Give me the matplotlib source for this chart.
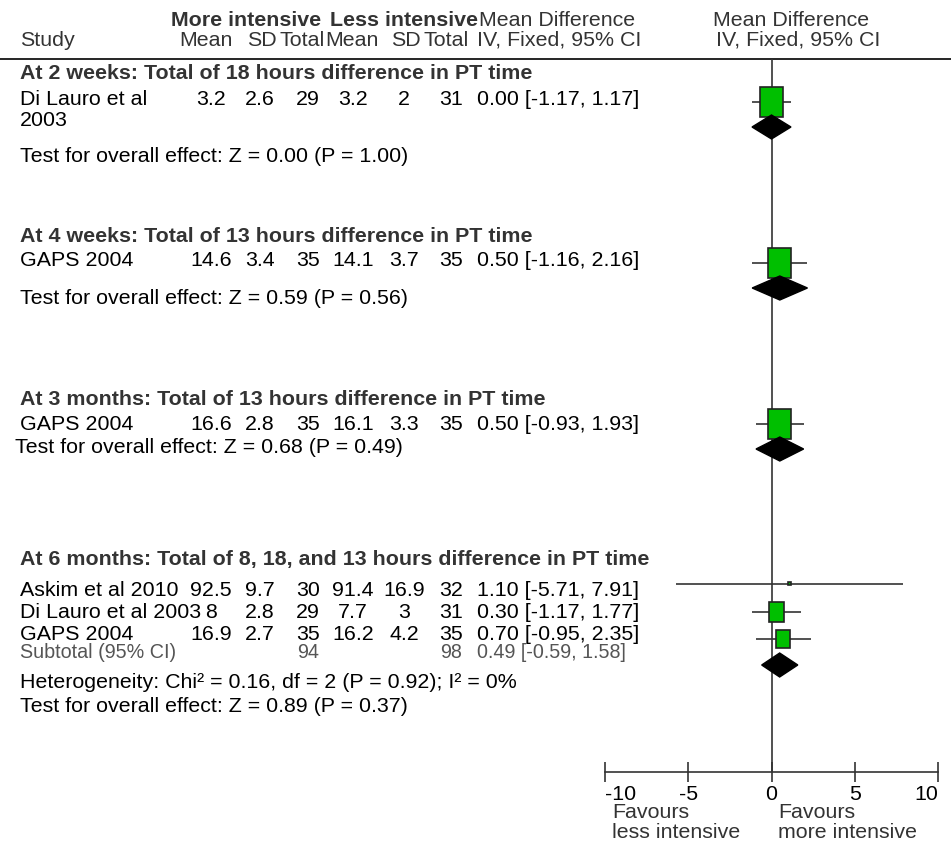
import matplotlib
matplotlib.use("Agg")
import matplotlib.pyplot as plt
from matplotlib.patches import Rectangle, Polygon
import numpy as np

plt.rcParams['font.family'] = ['Liberation Sans', 'DejaVu Sans']

# Data per study
study = ["Di Lauro et al\n2003", "GAPS 2004", "GAPS 2004",
         "Askim et al 2010", "Di Lauro et al 2003", "GAPS 2004"]
study_group = [0, 1, 2, 3, 3, 3]
mean_more = [3.2, 14.6, 16.6, 92.5, 8, 16.9]
sd_more = [2.6, 3.4, 2.8, 9.7, 2.8, 2.7]
n_more = [29, 35, 35, 30, 29, 35]
mean_less = [3.2, 14.1, 16.1, 91.4, 7.7, 16.2]
sd_less = [2, 3.7, 3.3, 16.9, 3, 4.2]
n_less = [31, 35, 35, 32, 31, 35]
md = [0.00, 0.50, 0.50, 1.10, 0.30, 0.70]
ci_lo = [-1.17, -1.16, -0.93, -5.71, -1.17, -0.95]
ci_hi = [1.17, 2.16, 1.93, 7.91, 1.77, 2.35]

# Data per subgroup
group_titles = ["At 2 weeks: Total of 18 hours difference in PT time",
                "At 4 weeks: Total of 13 hours difference in PT time",
                "At 3 months: Total of 13 hours difference in PT time",
                "At 6 months: Total of 8, 18, and 13 hours difference in PT time"]
pooled_md = [0.00, 0.50, 0.50, 0.49]
pooled_lo = [-1.17, -1.16, -0.93, -0.59]
pooled_hi = [1.17, 2.16, 1.93, 1.58]
overall_tests = ["Test for overall effect: Z = 0.00 (P = 1.00)",
                 "Test for overall effect: Z = 0.59 (P = 0.56)",
                 "Test for overall effect: Z = 0.68 (P = 0.49)",
                 "Test for overall effect: Z = 0.89 (P = 0.37)"]
subtotal_n_more = 94
subtotal_n_less = 98
heterogeneity = "Heterogeneity: Chi\u00b2 = 0.16, df = 2 (P = 0.92); I\u00b2 = 0%"

xticks = [-10, -5, 0, 5, 10]

# layout (pixel rows)
W, H = 951, 849
study_y_text = [99, 261, 424, 590, 612, 634]
study_y_mark = [102, 263, 424, 584, 612, 639]
title_y = [73, 236, 399, 560]
diamond_y = [127, 288, 449, 665]
test_y = [156, 299, 447, 706]
test_x = [20, 20, 15, 20]
col_x = [211, 260, 308, 353, 404, 451]
ci_x = 477
fs = 15.4
grey = '#333333'

fig = plt.figure(figsize=(W / 100, H / 100), dpi=100)
ax = fig.add_axes([0, 0, 1, 1])
ax.set_xlim(0, W)
ax.set_ylim(H, 0)
ax.axis('off')


def put(x, y, s, **kw):
    kw.setdefault('fontsize', fs)
    kw.setdefault('va', 'center')
    kw.setdefault('color', 'black')
    ax.text(x, y, s, **kw)


# headers
put(246, 20, "More intensive", ha='center', weight='bold', color=grey)
put(404, 20, "Less intensive", ha='center', weight='bold', color=grey)
put(479, 20, "Mean Difference", color=grey)
put(713, 20, "Mean Difference", color=grey)
put(20, 40, "Study", color=grey)
for x, s in zip([206, 262, 302, 352, 406, 446],
                ["Mean", "SD", "Total", "Mean", "SD", "Total"]):
    put(x, 40, s, ha='center', color=grey)
put(477, 40, "IV, Fixed, 95% CI", color=grey)
put(716, 40, "IV, Fixed, 95% CI", color=grey)
ax.plot([0, W], [59, 59], color='black', lw=1.2)

# study rows
for i in range(len(study)):
    y = study_y_text[i]
    if "\n" in study[i]:
        a, b = study[i].split("\n")
        put(20, y, a)
        put(20, y + 21, b)
    else:
        put(20, y, study[i])
    vals = [mean_more[i], sd_more[i], n_more[i], mean_less[i], sd_less[i], n_less[i]]
    for x, v in zip(col_x, vals):
        put(x, y, f"{v:g}", ha='center')
    put(ci_x, y, f"{md[i]:.2f} [{ci_lo[i]:.2f}, {ci_hi[i]:.2f}]")

for g in range(4):
    put(20, title_y[g], group_titles[g], weight='bold', color=grey)
    put(test_x[g], test_y[g], overall_tests[g])

sub_kw = dict(color='#555555', fontsize=14.2)
put(20, 653, "Subtotal (95% CI)", **sub_kw)
put(col_x[2], 653, f"{subtotal_n_more}", ha='center', **sub_kw)
put(col_x[5], 653, f"{subtotal_n_less}", ha='center', **sub_kw)
put(ci_x, 653, f"{pooled_md[3]:.2f} [{pooled_lo[3]:.2f}, {pooled_hi[3]:.2f}]", **sub_kw)
put(20, 683, heterogeneity)

put(612, 813, "Favours", color=grey)
put(612, 832, "less intensive", color=grey)
put(778, 813, "Favours", color=grey)
put(778, 832, "more intensive", color=grey)

# forest panel
x0, x1, ytop, ybot = 605, 938, 59, 772
fx = fig.add_axes([x0 / W, 1 - ybot / H, (x1 - x0) / W, (ybot - ytop) / H])
fx.set_xlim(-10, 10)
fx.set_ylim(ybot, ytop)
fx.patch.set_alpha(0)
for s in ['top', 'left', 'right']:
    fx.spines[s].set_visible(False)
fx.spines['bottom'].set_color(grey)
fx.spines['bottom'].set_linewidth(1.2)
fx.set_yticks([])
fx.set_xticks(xticks)
fx.set_xticklabels([str(t) for t in xticks])
fx.tick_params(axis='x', direction='inout', length=14, width=1.2, colors=grey,
               labelsize=fs, labelcolor='black', pad=2)
labs = fx.get_xticklabels()
labs[0].set_horizontalalignment('left')
labs[-1].set_horizontalalignment('right')
fx.axvline(0, color=grey, lw=1.2, zorder=1)

px = (x1 - x0) / 20.0  # pixels per unit
md_a = np.array(md)
lo_a = np.array(ci_lo)
hi_a = np.array(ci_hi)
wt = 1.0 / ((hi_a - lo_a) / 3.92) ** 2
grp = np.array(study_group)
for g in range(4):
    wt[grp == g] = wt[grp == g] / wt[grp == g].sum()

for i in range(len(md)):
    y = study_y_mark[i]
    fx.hlines(y, ci_lo[i], ci_hi[i], color=grey, lw=1.2, zorder=2)
    f = wt[i] ** 0.65
    wpx = max(23 * f, 3)
    hpx = max(30 * f, 3)
    fx.add_patch(Rectangle((md[i] - wpx / px / 2, y - hpx / 2), wpx / px, hpx,
                           facecolor='#00BF00', edgecolor='#222222', lw=1.2, zorder=3))

for g in range(4):
    y = diamond_y[g]
    fx.add_patch(Polygon([(pooled_lo[g], y), (pooled_md[g], y - 12),
                          (pooled_hi[g], y), (pooled_md[g], y + 12)],
                         closed=True, facecolor='black', edgecolor='black', zorder=4))

fig.savefig("out.png", dpi=100)
